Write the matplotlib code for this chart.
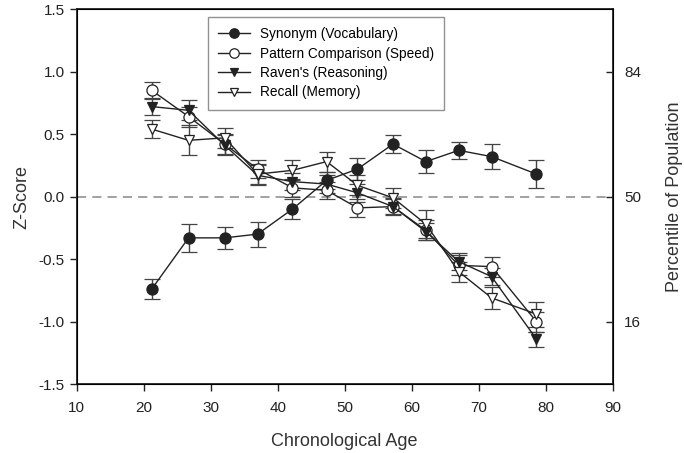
import numpy as np
import matplotlib
matplotlib.use("Agg")
import matplotlib.pyplot as plt
from matplotlib.lines import Line2D

plt.rcParams['font.family'] = ['Liberation Sans', 'DejaVu Sans']

# data
ages = [21.2, 26.7, 32.1, 37.0, 42.2, 47.3, 51.9, 57.2, 62.1, 67.0, 71.9, 78.6]

synonym = [-0.74, -0.33, -0.33, -0.30, -0.10, 0.13, 0.22, 0.42, 0.28, 0.37, 0.32, 0.18]
synonym_err = [0.08, 0.11, 0.09, 0.10, 0.08, 0.07, 0.09, 0.07, 0.09, 0.07, 0.10, 0.11]

pattern = [0.85, 0.64, 0.42, 0.22, 0.07, 0.05, -0.09, -0.08, -0.27, -0.55, -0.56, -1.00]
pattern_err = [0.07, 0.08, 0.08, 0.07, 0.07, 0.07, 0.07, 0.07, 0.08, 0.08, 0.08, 0.08]

ravens = [0.72, 0.69, 0.41, 0.17, 0.12, 0.10, 0.03, -0.08, -0.28, -0.52, -0.64, -1.14]
ravens_err = [0.07, 0.08, 0.08, 0.08, 0.07, 0.07, 0.07, 0.06, 0.07, 0.07, 0.07, 0.06]

recall = [0.54, 0.45, 0.47, 0.18, 0.21, 0.28, 0.09, -0.01, -0.22, -0.60, -0.81, -0.94]
recall_err = [0.07, 0.12, 0.08, 0.08, 0.08, 0.08, 0.08, 0.08, 0.11, 0.08, 0.09, 0.10]

labels = ["Synonym (Vocabulary)", "Pattern Comparison (Speed)",
          "Raven's (Reasoning)", "Recall (Memory)"]

dark = '#222222'
fig = plt.figure(figsize=(6.84, 4.53), dpi=100)
ax = fig.add_axes([0.112, 0.152, 0.784, 0.828])

ax.axhline(0, color='#888888', linestyle=(0, (6, 4)), linewidth=1.1, zorder=1)

styles = [
    (synonym, synonym_err, 'o', dark, 8),
    (pattern, pattern_err, 'o', 'white', 8),
    (ravens, ravens_err, 'v', dark, 7.5),
    (recall, recall_err, 'v', 'white', 7.5),
]
handles = []
for (vals, errs, m, fc, ms), lab in zip(styles, labels):
    ax.errorbar(ages, vals, yerr=errs, marker=m, markersize=ms,
                markerfacecolor=fc, markeredgecolor=dark, markeredgewidth=0.9,
                color=dark, linewidth=1.0, ecolor='#444444', elinewidth=1.0,
                capsize=6, capthick=1.0, zorder=3)
    handles.append(Line2D([], [], marker=m, markersize=ms * 0.85,
                          markerfacecolor=fc, markeredgecolor=dark,
                          markeredgewidth=0.9, color=dark, linewidth=1.0,
                          label=lab))

ax.set_xlim(10, 90)
ax.set_ylim(-1.5, 1.5)
ax.set_xticks(np.arange(10, 91, 10))
ax.set_yticks(np.arange(-1.5, 1.51, 0.5))
ax.set_yticklabels(['%.1f' % v for v in np.arange(-1.5, 1.51, 0.5)])
ax.tick_params(direction='out', length=5, width=1, labelsize=11, colors=dark)
ax.tick_params(axis='x', pad=7)
ax.set_xlabel('Chronological Age', fontsize=13, color='#333333', labelpad=13)
ax.set_ylabel('Z-Score', fontsize=13, color='#333333', labelpad=6)
for s in ax.spines.values():
    s.set_linewidth(1.3)
    s.set_color(dark)

ax2 = ax.twinx()
ax2.set_ylim(-1.5, 1.5)
ax2.set_yticks([-1, 0, 1])
ax2.set_yticklabels(['16', '50', '84'])
ax2.tick_params(direction='in', length=5, width=1, labelsize=11, colors=dark, pad=8)
ax2.set_ylabel('Percentile of Population', fontsize=13, color='#333333', labelpad=18)

leg = ax.legend(handles=handles, loc='upper center', bbox_to_anchor=(0.465, 0.99),
                fontsize=9.8, frameon=True, fancybox=False, edgecolor='#777777',
                borderpad=0.75, labelspacing=0.4, handlelength=2.4,
                handletextpad=0.7, borderaxespad=0.3)
leg.get_frame().set_linewidth(1.0)

fig.savefig('out.png', dpi=100)
